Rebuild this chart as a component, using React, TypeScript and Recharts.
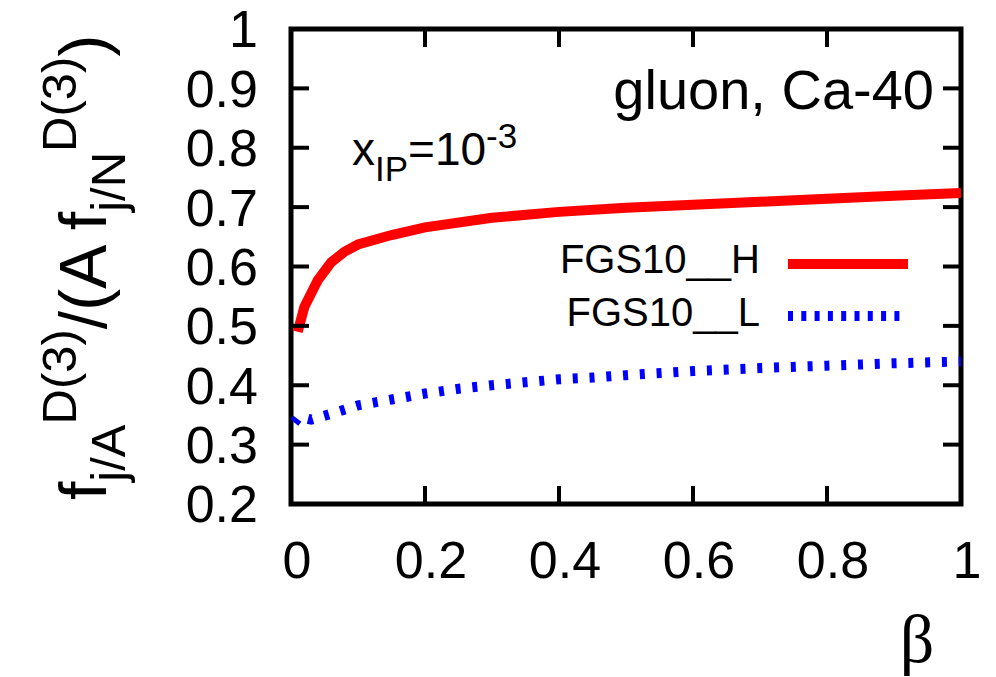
import React from 'react';
import { LineChart, Line, XAxis, YAxis, ReferenceArea } from 'recharts';

// β grid ticks and ratio ticks
const betaTicks = [0, 0.2, 0.4, 0.6, 0.8, 1];
const ratioTicks = [0.2, 0.3, 0.4, 0.5, 0.6, 0.7, 0.8, 0.9, 1];

// FGS10_H: gluon diffractive ratio, Ca-40, x_IP = 1e-3
const fgsHBeta = [0.01, 0.02, 0.04, 0.06, 0.08, 0.1, 0.15, 0.2, 0.3, 0.4, 0.5, 0.6, 0.7, 0.8, 0.9, 1.0];
const fgsHRatio = [0.49, 0.532, 0.577, 0.607, 0.625, 0.637, 0.653, 0.666, 0.682, 0.692, 0.699, 0.704, 0.709, 0.714, 0.719, 0.724];

// FGS10_L
const fgsLBeta = [0.005, 0.012, 0.03, 0.06, 0.1, 0.15, 0.2, 0.25, 0.3, 0.35, 0.4, 0.45, 0.5, 0.6, 0.7, 0.8, 0.9, 1.0];
const fgsLRatio = [0.337, 0.347, 0.342, 0.352, 0.366, 0.376, 0.386, 0.394, 0.4, 0.405, 0.41, 0.413, 0.417, 0.424, 0.429, 0.433, 0.437, 0.44];

const hData = fgsHBeta.map((b, i) => ({ beta: b, ratio: fgsHRatio[i] }));
const lData = fgsLBeta.map((b, i) => ({ beta: b, ratio: fgsLRatio[i] }));

const FONT = '"Liberation Sans", Arial, Helvetica, sans-serif';
const W = 996;
const H = 677;
const TICK_LEN = 18;
const TICK_W = 4;
const LABEL_SIZE = 52;

const fmt = (v: number) => String(v);

// inward ticks drawn together with their labels
function BottomTick(props: any) {
  const { x, y, payload } = props;
  return (
    <g>
      <line x1={x} x2={x} y1={y} y2={y - TICK_LEN} stroke="#000" strokeWidth={TICK_W} />
      <text x={x + 6} y={y + 74} textAnchor="middle" fontSize={LABEL_SIZE} fontFamily={FONT} fill="#000">
        {fmt(payload.value)}
      </text>
    </g>
  );
}

function LeftTick(props: any) {
  const { x, y, payload } = props;
  return (
    <g>
      <line x1={x} x2={x + TICK_LEN} y1={y} y2={y} stroke="#000" strokeWidth={TICK_W} />
      <text x={x - 33} y={y} dy="0.355em" textAnchor="end" fontSize={LABEL_SIZE} fontFamily={FONT} fill="#000">
        {fmt(payload.value)}
      </text>
    </g>
  );
}

function TopTick(props: any) {
  const { x, y } = props;
  return <line x1={x} x2={x} y1={y} y2={y + TICK_LEN} stroke="#000" strokeWidth={TICK_W} />;
}

function RightTick(props: any) {
  const { x, y } = props;
  return <line x1={x} x2={x - TICK_LEN} y1={y} y2={y} stroke="#000" strokeWidth={TICK_W} />;
}

function Overlay() {
  return (
    <svg width={W} height={H} style={{ position: 'absolute', left: 0, top: 0, pointerEvents: 'none' }} fontFamily={FONT}>
      <text x={934} y={109} fontSize={56} textAnchor="end" fill="#000">gluon, Ca-40</text>
      <text x={352} y={165} fontSize={46} fill="#000">
        x<tspan fontSize={35} dy={16}>IP</tspan>
        <tspan dy={-16}>=10</tspan>
        <tspan fontSize={35} dy={-17}>-3</tspan>
      </text>
      {/* key */}
      <text x={760} y={273} fontSize={40} textAnchor="end" fill="#000">FGS10__H</text>
      <line x1={788} x2={908} y1={264} y2={264} stroke="#ff0000" strokeWidth={10} />
      <text x={760} y={326} fontSize={40} textAnchor="end" fill="#000">FGS10__L</text>
      <line x1={788} x2={905} y1={316} y2={316} stroke="#0000ff" strokeWidth={10} strokeDasharray="5 8.3" />
      {/* axis titles */}
      <text x={917} y={662} fontSize={68} textAnchor="middle" fill="#000" fontFamily='"Liberation Serif", serif'>β</text>
      <text transform="translate(106,500) rotate(-90)" fontSize={66} fill="#000">
        f<tspan fontSize={49} dy={19}>j/A</tspan>
        <tspan fontSize={49} dy={-49}>D(3)</tspan>
        <tspan dy={30}>/(A f</tspan>
        <tspan fontSize={49} dy={19}>j/N</tspan>
        <tspan fontSize={49} dy={-49}>D(3)</tspan>
        <tspan dy={30}>)</tspan>
      </text>
    </svg>
  );
}

export default function App() {
  return (
    <div style={{ position: 'absolute', left: 0, top: 0, width: W, height: H, background: '#fff' }}>
      <LineChart width={W} height={H} margin={{ top: 0, right: 0, bottom: 0, left: 0 }}>
        <XAxis
          xAxisId="bottom"
          orientation="bottom"
          type="number"
          dataKey="beta"
          domain={[0, 1]}
          ticks={betaTicks}
          interval={0}
          height={173}
          tickSize={0}
          tickMargin={0}
          axisLine={false}
          tickLine={false}
          tick={BottomTick}
          allowDataOverflow
        />
        <XAxis
          xAxisId="top"
          orientation="top"
          type="number"
          dataKey="beta"
          domain={[0, 1]}
          ticks={betaTicks}
          interval={0}
          height={29}
          tickSize={0}
          tickMargin={0}
          axisLine={false}
          tickLine={false}
          tick={TopTick}
          allowDataOverflow
        />
        <YAxis
          yAxisId="left"
          orientation="left"
          type="number"
          domain={[0.2, 1]}
          ticks={ratioTicks}
          interval={0}
          width={291}
          tickSize={0}
          tickMargin={0}
          axisLine={false}
          tickLine={false}
          tick={LeftTick}
          allowDataOverflow
        />
        <YAxis
          yAxisId="right"
          orientation="right"
          type="number"
          domain={[0.2, 1]}
          ticks={ratioTicks}
          interval={0}
          width={35}
          tickSize={0}
          tickMargin={0}
          axisLine={false}
          tickLine={false}
          tick={RightTick}
          allowDataOverflow
        />
        <Line
          xAxisId="bottom"
          yAxisId="left"
          data={hData}
          dataKey="ratio"
          type="linear"
          stroke="#ff0000"
          strokeWidth={10}
          dot={false}
          activeDot={false}
          isAnimationActive={false}
        />
        <Line
          xAxisId="bottom"
          yAxisId="left"
          data={lData}
          dataKey="ratio"
          type="linear"
          stroke="#0000ff"
          strokeWidth={10}
          strokeDasharray="5 11.8"
          dot={false}
          activeDot={false}
          isAnimationActive={false}
        />
        <ReferenceArea
          xAxisId="bottom"
          yAxisId="left"
          x1={0}
          x2={1}
          y1={0.2}
          y2={1}
          fill="none"
          stroke="#000"
          strokeWidth={5}
          fillOpacity={0}
          ifOverflow="visible"
        />
      </LineChart>
      <Overlay />
    </div>
  );
}
